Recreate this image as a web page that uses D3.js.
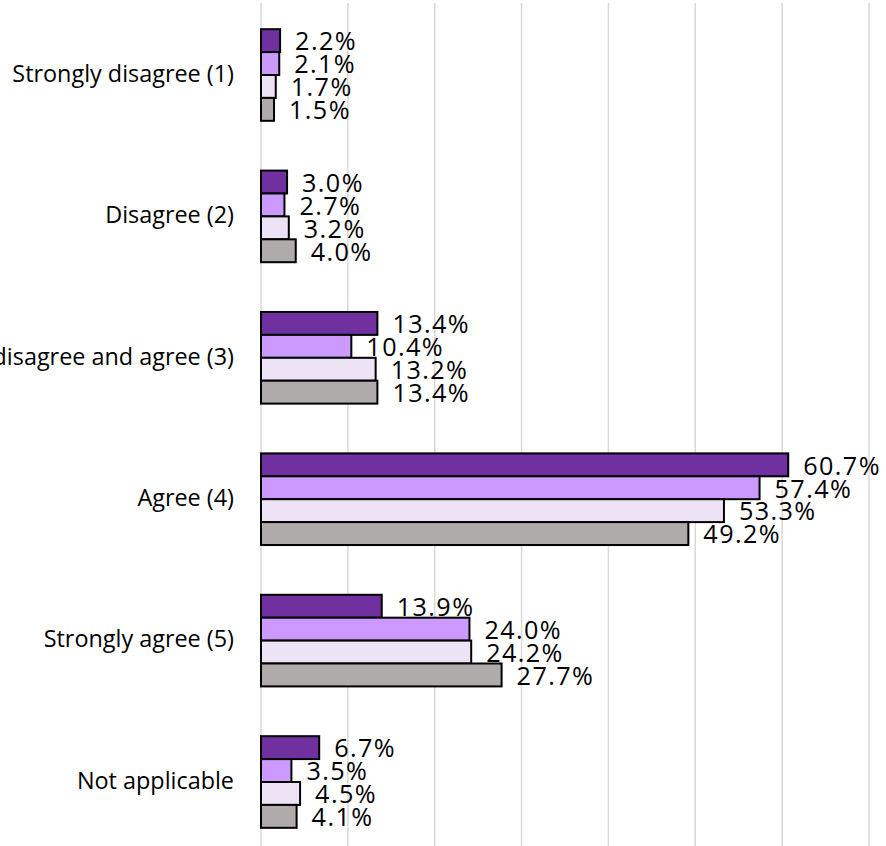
<!DOCTYPE html>
<html>
<head>
<meta charset="utf-8">
<script src="https://cdn.jsdelivr.net/npm/d3@7"></script>
<style>
  html, body { margin: 0; padding: 0; background: #fff; }
  svg { display: block; }
  text { font-family: "Open Sans", Lato, sans-serif; fill: #000; }
</style>
</head>
<body>
<svg id="chart" width="886" height="846"></svg>
<script>
// Response categories, top to bottom
const categories = [
  "Strongly disagree (1)",
  "Disagree (2)",
  "Neither disagree and agree (3)",
  "Agree (4)",
  "Strongly agree (5)",
  "Not applicable"
];

// Four series, each listing percentages in category order
const seriesNames = ["Series 1", "Series 2", "Series 3", "Series 4"];
const series1 = [2.2, 3.0, 13.4, 60.7, 13.9, 6.7];
const series2 = [2.1, 2.7, 10.4, 57.4, 24.0, 3.5];
const series3 = [1.7, 3.2, 13.2, 53.3, 24.2, 4.5];
const series4 = [1.5, 4.0, 13.4, 49.2, 27.7, 4.1];
const seriesValues = [series1, series2, series3, series4];
const seriesColors = ["#7030A0", "#CC99FF", "#EDE2F6", "#AFABAB"];

// Gridline positions on the value axis (percent)
const gridTicks = [0, 10, 20, 30, 40, 50, 60, 70];

const svg = d3.select("#chart");
const W = 886, H = 846;

const x = d3.scaleLinear().domain([0, 70]).range([261, 869]);
const y = d3.scaleBand().domain(categories).range([4.3, 852.7])
  .paddingInner(0.352).paddingOuter(0.176);
const ySub = d3.scaleBand().domain(seriesNames).range([0, y.bandwidth()]).padding(0);

// Vertical gridlines
svg.append("g")
  .selectAll("line")
  .data(gridTicks)
  .join("line")
  .attr("x1", d => x(d)).attr("x2", d => x(d))
  .attr("y1", 3).attr("y2", H)
  .attr("stroke", "#D9D9D9")
  .attr("stroke-width", 1.5);

// Category labels
svg.append("g")
  .selectAll("text")
  .data(categories)
  .join("text")
  .attr("x", 234)
  .attr("y", d => y(d) + y.bandwidth() / 2 + 6.7)
  .attr("text-anchor", "end")
  .style("font-size", "23.4px")
  .text(d => d);

// Bars and value labels
const rows = [];
categories.forEach((c, ci) => {
  seriesNames.forEach((s, si) => {
    rows.push({ cat: c, series: s, si, value: seriesValues[si][ci] });
  });
});

const groups = svg.append("g");

groups.selectAll("rect")
  .data(rows)
  .join("rect")
  .attr("x", x(0))
  .attr("y", d => y(d.cat) + ySub(d.series))
  .attr("width", d => x(d.value) - x(0))
  .attr("height", ySub.bandwidth())
  .attr("fill", d => seriesColors[d.si])
  .attr("stroke", "#000")
  .attr("stroke-width", 2);

groups.selectAll("text")
  .data(rows)
  .join("text")
  .attr("x", d => x(d.value) + 15)
  .attr("y", d => y(d.cat) + ySub(d.series) + ySub.bandwidth() / 2 + 9.8)
  .attr("text-anchor", "start")
  .style("font-size", "25.2px")
  .style("letter-spacing", "1.4px")
  .text(d => d.value.toFixed(1) + "%");
</script>
</body>
</html>
